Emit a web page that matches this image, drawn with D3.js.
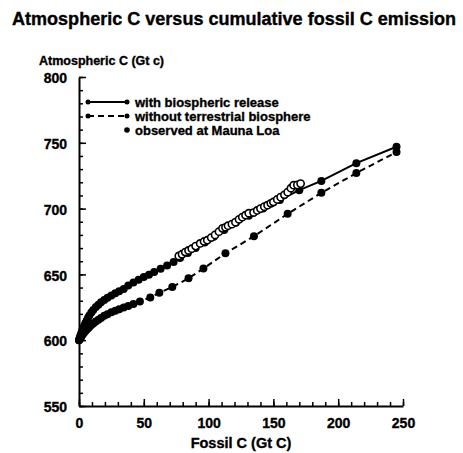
<!DOCTYPE html>
<html lang="en">
<head>
	<title>Atmospheric C versus cumulative fossil C emission</title>
	<style>
	body { margin: 0; background: #fff; }
	text { font-family: "Liberation Sans", Arial, sans-serif; font-weight: bold; fill: #000; stroke: #000; stroke-width: 0.35px; }
	</style>
</head>
<body>
	<svg width="463" height="453"></svg>
	<script src="https://d3js.org/d3.v7.min.js"></script>
	<script>

	// model run with biospheric release (solid line)
	var withBioX = [0, 0.4, 0.8, 1.2, 1.7, 2.2, 2.8, 3.5, 4.2, 5, 6, 7, 8, 9.5, 11, 13, 15, 17, 19.5, 22, 25, 28, 31, 34.5, 38, 42, 46, 50, 54, 58, 63, 68, 73, 78, 84, 90, 97, 104, 112, 121, 131, 142, 155, 170, 187, 214, 245];
	var withBioY = [600, 601.3, 602.5, 603.7, 605, 606.5, 608, 609.7, 611.2, 613, 615, 617, 618.7, 621, 623, 625.3, 627, 628.8, 630.6, 632.2, 634, 635.6, 637.2, 639, 641.5, 643.8, 646, 648, 649.8, 651.8, 654.2, 656.8, 659.5, 662.5, 666.3, 670, 674.2, 678.6, 683.8, 689.2, 694.5, 700, 706.6, 714, 721, 734.5, 747];

	// model run without terrestrial biosphere (dashed line)
	var noBioX = [0, 0.5, 1, 1.5, 2, 3, 4, 5, 6, 7, 8, 9.5, 11, 13, 15, 17, 19.5, 22, 25, 28, 31, 34.5, 38, 42, 47, 55, 62, 72, 84.5, 96, 113, 135, 161, 187, 214, 245];
	var noBioY = [600, 600.8, 601.5, 602.2, 603, 604.5, 605.8, 607, 608.1, 609.1, 610, 611.5, 612.7, 614.2, 615.5, 616.8, 618.5, 619.8, 621.2, 622.3, 623.5, 624.8, 626, 627.5, 629.5, 632.5, 636, 640.5, 647, 654.5, 666, 679, 696, 712, 727, 743];

	// observed at Mauna Loa (open circles)
	var maunaX = [77, 79.5, 82, 84.5, 87, 90, 93.5, 96.5, 99, 102, 105, 108, 110.7, 113, 115, 118, 120.7, 123.5, 126, 128.5, 131, 134.7, 137.5, 140, 143, 145.5, 148, 150, 153, 155.6, 158.5, 161, 163.5, 165.6, 168.5, 171];
	var maunaY = [664, 665.3, 667, 668.2, 669.5, 671.5, 673.5, 675, 676, 678, 680, 682.5, 685, 685.8, 687, 688.2, 689.7, 691.8, 693.5, 695, 696.5, 697, 698.6, 700, 701.5, 702.6, 704, 705, 707, 708.7, 710.5, 712.5, 715.5, 717.8, 718, 719];

	var xTicks = [0, 50, 100, 150, 200, 250];
	var yTicks = [550, 600, 650, 700, 750, 800];

	var legendLabels = ["with biospheric release", "without terrestrial biosphere", "observed at Mauna Loa"];

	var svg = d3.select("svg");

	var x = d3.scaleLinear().domain([0, 250]).range([79, 403]);
	var y = d3.scaleLinear().domain([550, 800]).range([406, 77]);

	// title
	svg.append("text")
		.attr("x", 12)
		.attr("y", 25)
		.attr("textLength", 444)
		.attr("lengthAdjust", "spacingAndGlyphs")
		.style("font-size", "17.5px")
		.text("Atmospheric C versus cumulative fossil C emission");

	// minor ticks first, then major ticks with labels
	svg.append("g")
		.attr("transform", "translate(0," + y(550) + ")")
		.call(d3.axisBottom(x).tickValues(d3.range(0, 251, 10)).tickSize(-4).tickFormat(""))
		.call(function(g) { g.select(".domain").remove(); g.selectAll("line").attr("stroke-width", 1.5); });

	svg.append("g")
		.attr("transform", "translate(0," + y(550) + ")")
		.call(d3.axisBottom(x).tickValues(xTicks).tickSize(-7).tickSizeOuter(0).tickPadding(12))
		.call(function(g) {
			g.select(".domain").attr("stroke-width", 2);
			g.selectAll("line").attr("stroke-width", 1.5);
			g.selectAll("text").style("font-size", "14px").attr("font-family", null);
		});

	svg.append("g")
		.attr("transform", "translate(" + x(0) + ",0)")
		.call(d3.axisLeft(y).tickValues(d3.range(550, 801, 10)).tickSize(-4).tickFormat(""))
		.call(function(g) { g.select(".domain").remove(); g.selectAll("line").attr("stroke-width", 1.5); });

	svg.append("g")
		.attr("transform", "translate(" + x(0) + ",0)")
		.call(d3.axisLeft(y).tickValues(yTicks).tickSize(-7).tickSizeOuter(0).tickPadding(12))
		.call(function(g) {
			g.select(".domain").attr("stroke-width", 2);
			g.selectAll("line").attr("stroke-width", 1.5);
			g.selectAll("text").style("font-size", "14px").attr("font-family", null).attr("dy", "0.4em");
		});

	// axis titles
	svg.append("text")
		.attr("x", 39)
		.attr("y", 65)
		.style("font-size", "12.5px")
		.text("Atmospheric C (Gt c)");

	svg.append("text")
		.attr("x", x(125))
		.attr("y", 448)
		.attr("text-anchor", "middle")
		.style("font-size", "14.5px")
		.text("Fossil C (Gt C)");

	// curves
	var withBio = withBioX.map(function(d, i) { return [d, withBioY[i]]; });
	var noBio = noBioX.map(function(d, i) { return [d, noBioY[i]]; });
	var mauna = maunaX.map(function(d, i) { return [d, maunaY[i]]; });

	var line = d3.line()
		.x(function(d) { return x(d[0]); })
		.y(function(d) { return y(d[1]); });

	svg.append("path")
		.datum(noBio)
		.attr("d", line)
		.attr("fill", "none")
		.attr("stroke", "#000")
		.attr("stroke-width", 2)
		.attr("stroke-dasharray", "6,4");

	svg.append("path")
		.datum(withBio)
		.attr("d", line)
		.attr("fill", "none")
		.attr("stroke", "#000")
		.attr("stroke-width", 2);

	svg.append("g").selectAll("circle")
		.data(noBio)
		.enter().append("circle")
			.attr("cx", function(d) { return x(d[0]); })
			.attr("cy", function(d) { return y(d[1]); })
			.attr("r", 4)
			.attr("fill", "#000");

	svg.append("g").selectAll("circle")
		.data(withBio)
		.enter().append("circle")
			.attr("cx", function(d) { return x(d[0]); })
			.attr("cy", function(d) { return y(d[1]); })
			.attr("r", 4)
			.attr("fill", "#000");

	svg.append("g").selectAll("circle")
		.data(mauna)
		.enter().append("circle")
			.attr("cx", function(d) { return x(d[0]); })
			.attr("cy", function(d) { return y(d[1]); })
			.attr("r", 3.6)
			.attr("fill", "#fff")
			.attr("stroke", "#000")
			.attr("stroke-width", 1.6);

	// legend
	var legend = svg.append("g");
	var rowY = [102, 116, 130];

	legend.selectAll("text")
		.data(legendLabels)
		.enter().append("text")
			.attr("x", 135)
			.attr("y", function(d, i) { return rowY[i]; })
			.attr("dy", "0.35em")
			.style("font-size", "13px")
			.text(function(d) { return d; });

	[0, 1].forEach(function(i) {
		legend.append("line")
			.attr("x1", 88).attr("x2", 127)
			.attr("y1", rowY[i]).attr("y2", rowY[i])
			.attr("stroke", "#000")
			.attr("stroke-width", 2)
			.attr("stroke-dasharray", i === 1 ? "6,4" : null);
		legend.append("circle").attr("cx", 88).attr("cy", rowY[i]).attr("r", 2.5);
		legend.append("circle").attr("cx", 127).attr("cy", rowY[i]).attr("r", 2.5);
	});
	legend.append("circle").attr("cx", 127).attr("cy", rowY[2]).attr("r", 2.8);

	</script>
</body>
</html>
